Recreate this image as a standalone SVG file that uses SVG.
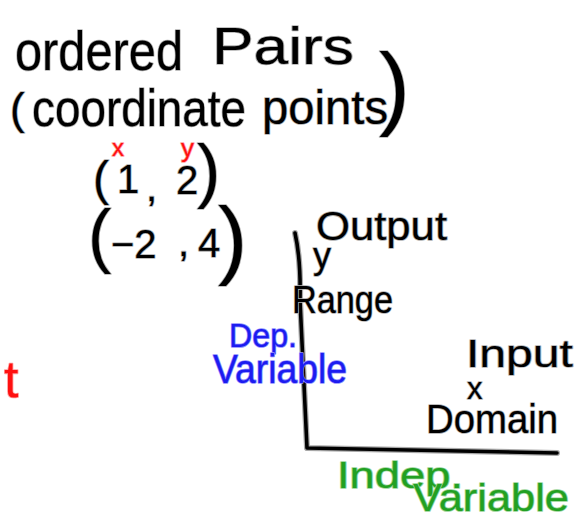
<svg xmlns="http://www.w3.org/2000/svg" width="588" height="520" viewBox="0 0 588 520">
<style>
text{font-family:"Liberation Sans","DejaVu Sans",sans-serif;paint-order:stroke;stroke-linejoin:round}
.k{fill:#000;stroke:#b0b0b0;stroke-width:1.6}
.r{fill:#ff1010;stroke:#ffa0a0;stroke-width:1.6}
.b{fill:#1c1cf0;stroke:#9090ff;stroke-width:1.6}
.g{fill:#22a022;stroke:#98d498;stroke-width:1.6}
.halo{fill:none;stroke:#a8a8a8;stroke-width:6;stroke-linecap:round;stroke-linejoin:round}
.ax{fill:none;stroke:#000;stroke-width:3.6;stroke-linecap:round;stroke-linejoin:round}
</style>
<rect width="588" height="520" fill="#fff"/>
<g id="title">
<text class="k"><tspan x="15" y="70" font-size="56" textLength="168" lengthAdjust="spacingAndGlyphs">ordered</tspan><tspan x="212" y="64" font-size="52" textLength="142" lengthAdjust="spacingAndGlyphs">Pairs</tspan></text>
<text class="k"><tspan x="10" y="124" font-size="44">(</tspan><tspan x="32" y="126" font-size="52" textLength="214" lengthAdjust="spacingAndGlyphs">coordinate</tspan><tspan x="262" y="124" font-size="48" textLength="126" lengthAdjust="spacingAndGlyphs">points</tspan><tspan x="379" y="118" font-size="93">)</tspan></text>
</g>
<g id="pairs">
<text class="r" x="112" y="156" font-size="24">x</text>
<text class="r" x="181" y="157" font-size="26">y</text>
<text class="k"><tspan x="93" y="195" font-size="48">(</tspan><tspan x="117" y="193" font-size="40">1</tspan><tspan x="146" y="201" font-size="40">,</tspan><tspan x="176" y="194" font-size="40">2</tspan><tspan x="197" y="194" font-size="70">)</tspan></text>
<text class="k"><tspan x="88" y="259" font-size="70">(</tspan><tspan x="111" y="258" font-size="40">−2</tspan><tspan x="178" y="256" font-size="40">,</tspan><tspan x="198" y="257" font-size="40">4</tspan><tspan x="218" y="268" font-size="88">)</tspan></text>
</g>
<g id="axes">
<path class="halo" d="M295 233 Q301 260 300 300 L307 448 L557 453"/>
<path class="ax" d="M295 233 Q301 260 300 300 L307 448 L557 453"/>
</g>
<g id="y-axis-labels">
<text class="k" x="316" y="240" font-size="40" textLength="131" lengthAdjust="spacingAndGlyphs">Output</text>
<text class="k" x="313" y="268" font-size="36">y</text>
<text class="k" x="292" y="313" font-size="38" textLength="101" lengthAdjust="spacingAndGlyphs">Range</text>
<text class="b" x="229" y="347" font-size="34" textLength="68" lengthAdjust="spacingAndGlyphs">Dep.</text>
<text class="b" x="213" y="383" font-size="40" textLength="134" lengthAdjust="spacingAndGlyphs">Variable</text>
</g>
<g id="x-axis-labels">
<text class="k" x="466" y="367" font-size="38" textLength="107" lengthAdjust="spacingAndGlyphs">Input</text>
<text class="k" x="467" y="399" font-size="31">x</text>
<text class="k" x="426" y="433" font-size="41" textLength="132" lengthAdjust="spacingAndGlyphs">Domain</text>
<text class="g" x="337" y="488" font-size="36" textLength="126" lengthAdjust="spacingAndGlyphs">Indep.</text>
<text class="g" x="413" y="511" font-size="39" textLength="156" lengthAdjust="spacingAndGlyphs">Variable</text>
</g>
<g id="fragment">
<text class="r" x="4" y="397" font-size="52">t</text>
</g>
</svg>
